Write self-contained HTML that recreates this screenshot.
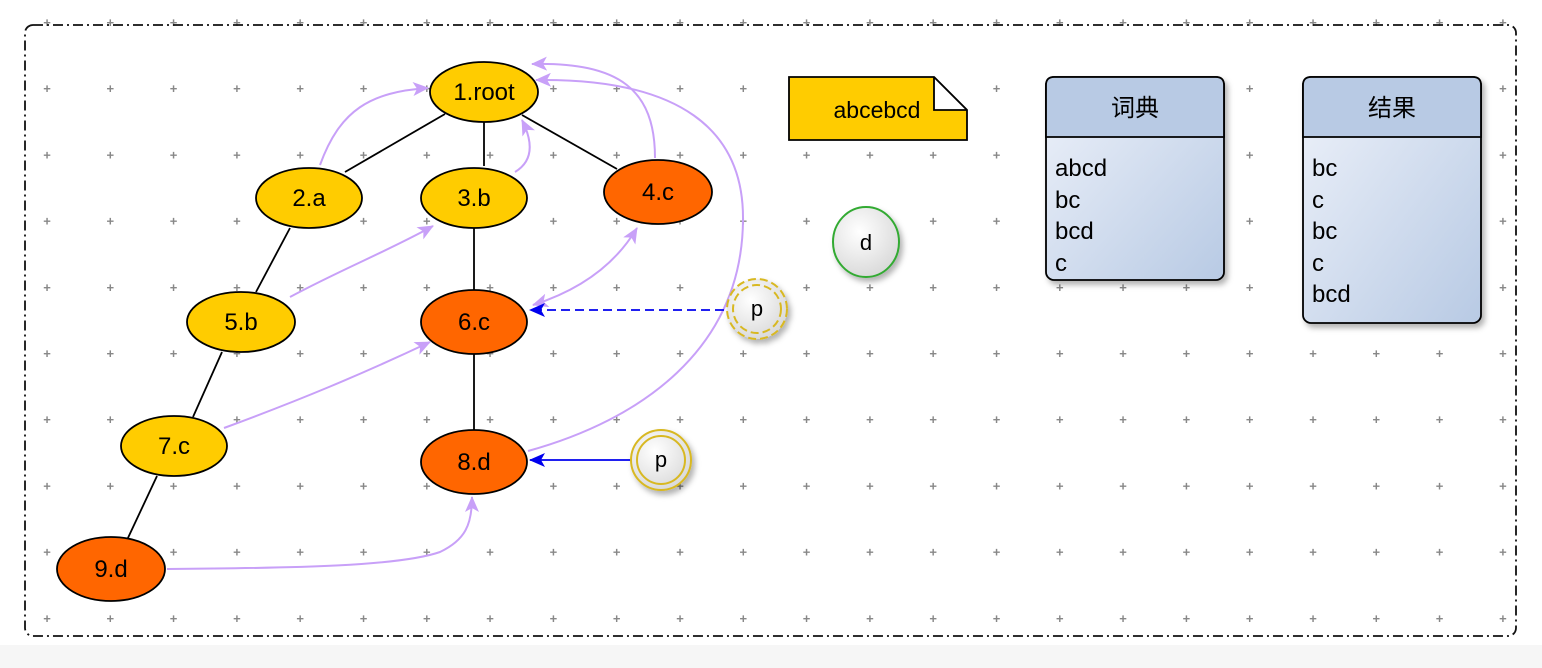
<!DOCTYPE html>
<html><head><meta charset="utf-8"><style>
html,body{margin:0;padding:0;background:#fff;}
svg{display:block;}
text{font-family:"Liberation Sans","Noto Sans CJK SC",sans-serif;}
</style></head><body>
<svg width="1542" height="668" viewBox="0 0 1542 668">
<defs>
<marker id="ap" viewBox="0 0 16 14" refX="15" refY="7" markerWidth="16" markerHeight="14" markerUnits="userSpaceOnUse" orient="auto-start-reverse"><path d="M0,0 L16,7 L0,14 L4,7 Z" fill="#c8a0f8"/></marker>
<marker id="ab" viewBox="0 0 16 14" refX="15" refY="7" markerWidth="16" markerHeight="14" markerUnits="userSpaceOnUse" orient="auto"><path d="M0,0 L16,7 L0,14 L4,7 Z" fill="#0000ee"/></marker>
<linearGradient id="bx" x1="0" y1="0" x2="1" y2="1"><stop offset="0" stop-color="#eef2fa"/><stop offset="1" stop-color="#b8cae4"/></linearGradient>
<radialGradient id="cg" cx="0.4" cy="0.35" r="0.7"><stop offset="0" stop-color="#ffffff"/><stop offset="1" stop-color="#d8d8d8"/></radialGradient>
<filter id="sh" x="-20%" y="-20%" width="150%" height="150%"><feDropShadow dx="3" dy="4" stdDeviation="3" flood-color="#000" flood-opacity="0.3"/></filter>
</defs>
<rect x="0" y="645" width="1542" height="23" fill="#f6f6f6"/>
<g id="grid"></g>
<rect x="25" y="25" width="1491" height="611" rx="8" fill="none" stroke="#111" stroke-width="1.8" stroke-dasharray="10,4,2,4"/>

<g stroke="#000" stroke-width="1.8">
<line x1="445" y1="114" x2="345" y2="172"/>
<line x1="484" y1="122" x2="484" y2="166"/>
<line x1="522" y1="115" x2="617" y2="169"/>
<line x1="290" y1="228" x2="256" y2="292"/>
<line x1="474" y1="228" x2="474" y2="292"/>
<line x1="222" y1="352" x2="193" y2="417"/>
<line x1="474" y1="352" x2="474" y2="432"/>
<line x1="157" y1="476" x2="127" y2="540"/>
</g>

<g fill="none" stroke="#c8a0f8" stroke-width="2">
<path d="M320,165 C340,110 370,92 428,88" marker-end="url(#ap)"/>
<path d="M515,172 C535,160 532,140 522,120" marker-end="url(#ap)"/>
<path d="M655,158 C655,90 620,62 532,64" marker-end="url(#ap)"/>
<path d="M290,297 C340,270 390,250 433,226" marker-end="url(#ap)"/>
<path d="M533,305 C580,290 615,265 637,228" marker-start="url(#ap)" marker-end="url(#ap)"/>
<path d="M224,428 C300,400 360,375 430,342" marker-end="url(#ap)"/>
<path d="M528,451 C640,420 742,350 743,220 C744,130 680,78 536,80" marker-end="url(#ap)"/>
<path d="M167,569 C300,568 400,566 440,552 C465,540 472,525 472,497" marker-end="url(#ap)"/>
</g>
<line x1="724" y1="310" x2="530" y2="310" stroke="#0000ee" stroke-width="1.8" stroke-dasharray="9,5" marker-end="url(#ab)"/>
<line x1="632" y1="460" x2="530" y2="460" stroke="#0000ee" stroke-width="1.8" marker-end="url(#ab)"/>

<g stroke="#000" stroke-width="1.8" font-size="24" text-anchor="middle">
<g><ellipse cx="484" cy="92" rx="54" ry="30" fill="#ffcc00"/><text x="484" y="100" stroke="none">1.root</text></g>
<g><ellipse cx="309" cy="198" rx="53" ry="30" fill="#ffcc00"/><text x="309" y="206" stroke="none">2.a</text></g>
<g><ellipse cx="474" cy="198" rx="53" ry="30" fill="#ffcc00"/><text x="474" y="206" stroke="none">3.b</text></g>
<g><ellipse cx="658" cy="192" rx="54" ry="32" fill="#ff6600"/><text x="658" y="200" stroke="none">4.c</text></g>
<g><ellipse cx="241" cy="322" rx="54" ry="30" fill="#ffcc00"/><text x="241" y="330" stroke="none">5.b</text></g>
<g><ellipse cx="474" cy="322" rx="53" ry="32" fill="#ff6600"/><text x="474" y="330" stroke="none">6.c</text></g>
<g><ellipse cx="174" cy="446" rx="53" ry="30" fill="#ffcc00"/><text x="174" y="454" stroke="none">7.c</text></g>
<g><ellipse cx="474" cy="462" rx="53" ry="32" fill="#ff6600"/><text x="474" y="470" stroke="none">8.d</text></g>
<g><ellipse cx="111" cy="569" rx="54" ry="32" fill="#ff6600"/><text x="111" y="577" stroke="none">9.d</text></g>
</g>

<g filter="url(#sh)">
<circle cx="757" cy="309" r="30" fill="url(#cg)" stroke="#d8b820" stroke-width="2" stroke-dasharray="8,4"/>
<circle cx="757" cy="309" r="24" fill="none" stroke="#d8b820" stroke-width="2" stroke-dasharray="8,4"/>
<text x="757" y="316" font-size="22" text-anchor="middle">p</text></g>
<g filter="url(#sh)">
<circle cx="661" cy="460" r="30" fill="url(#cg)" stroke="#d8b820" stroke-width="2"/>
<circle cx="661" cy="460" r="24" fill="none" stroke="#d8b820" stroke-width="2"/>
<text x="661" y="467" font-size="22" text-anchor="middle">p</text></g>
<g filter="url(#sh)">
<ellipse cx="866" cy="242" rx="33" ry="35" fill="url(#cg)" stroke="#33aa33" stroke-width="2"/>
<text x="866" y="250" font-size="22" text-anchor="middle">d</text></g>

<g>
<path d="M789,77 L934,77 L967,110 L967,140 L789,140 Z" fill="#ffcc00" stroke="#000" stroke-width="1.8"/>
<path d="M934,77 L934,110 L967,110" fill="#fff" stroke="#000" stroke-width="1.8"/>
<path d="M934,77 L967,110" stroke="#000" stroke-width="1.8"/>
<text x="877" y="118" font-size="23" text-anchor="middle">abcebcd</text></g>

<g filter="url(#sh)">
<rect x="1046" y="77" width="178" height="203" rx="8" fill="url(#bx)" stroke="#000" stroke-width="1.8"/>
<path d="M1054,77 L1216,77 Q1224,77 1224,85 L1224,137 L1046,137 L1046,85 Q1046,77 1054,77 Z" fill="#b8cae4" stroke="#000" stroke-width="1.8"/>
<text x="1135" y="116" font-size="24" text-anchor="middle">词典</text>
<text font-size="24"><tspan x="1055" y="176">abcd</tspan><tspan x="1055" y="208">bc</tspan><tspan x="1055" y="239">bcd</tspan><tspan x="1055" y="271">c</tspan></text></g>

<g filter="url(#sh)">
<rect x="1303" y="77" width="178" height="246" rx="8" fill="url(#bx)" stroke="#000" stroke-width="1.8"/>
<path d="M1311,77 L1473,77 Q1481,77 1481,85 L1481,137 L1303,137 L1303,85 Q1303,77 1311,77 Z" fill="#b8cae4" stroke="#000" stroke-width="1.8"/>
<text x="1392" y="116" font-size="24" text-anchor="middle">结果</text>
<text font-size="24"><tspan x="1312" y="176">bc</tspan><tspan x="1312" y="208">c</tspan><tspan x="1312" y="239">bc</tspan><tspan x="1312" y="271">c</tspan><tspan x="1312" y="302">bcd</tspan></text></g>
</svg>
<script>
var g=document.getElementById('grid');
for(var y=22;y<640;y+=66.2){for(var x=47;x<1510;x+=63.3){
var t=document.createElementNS('http://www.w3.org/2000/svg','text');


t.setAttribute('x',x);t.setAttribute('y',y+5);t.setAttribute('font-size','13');t.setAttribute('font-weight','bold');
t.setAttribute('fill','#888');t.setAttribute('text-anchor','middle');t.textContent='+';g.appendChild(t);}}
</script>
</body></html>
